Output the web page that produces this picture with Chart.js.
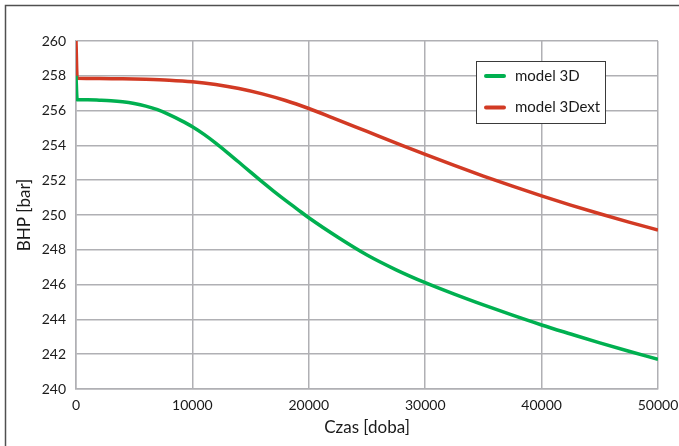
<!DOCTYPE html>
<html>
<head>
<meta charset="utf-8">
<script src="https://cdn.jsdelivr.net/npm/chart.js@4"></script>
<style>
  html, body { margin: 0; padding: 0; background: #fff; }
  #wrap { width: 679px; height: 446px; position: relative; }
</style>
</head>
<body>
<div id="wrap"><canvas id="myChart"></canvas></div>
<script>
// czas [doba] / BHP [bar]
const days3D = [0, 100, 1000, 2000, 3000, 4000, 5000, 6000, 7000, 8000, 9000, 10000, 11000, 12000, 13000, 14000, 15000, 16000, 17000, 18000, 19000, 20000, 22500, 25000, 27500, 30000, 32500, 35000, 37500, 40000, 42500, 45000, 47500, 50000];
const bhp3D = [258.0, 256.62, 256.62, 256.6, 256.57, 256.51, 256.41, 256.26, 256.05, 255.77, 255.44, 255.07, 254.63, 254.13, 253.59, 253.03, 252.46, 251.9, 251.36, 250.84, 250.34, 249.84, 248.72, 247.7, 246.85, 246.11, 245.45, 244.83, 244.24, 243.68, 243.16, 242.65, 242.17, 241.71];

const days3Dext = [0, 100, 2000, 4000, 6000, 8000, 10000, 12000, 14000, 16000, 18000, 20000, 22000, 24000, 26000, 28000, 30000, 32500, 35000, 37500, 40000, 42500, 45000, 47500, 50000];
const bhp3Dext = [260.0, 257.86, 257.85, 257.83, 257.8, 257.75, 257.66, 257.5, 257.27, 256.96, 256.58, 256.12, 255.6, 255.07, 254.53, 254.0, 253.48, 252.85, 252.24, 251.66, 251.1, 250.57, 250.07, 249.59, 249.14];

const xTicks = [0, 10000, 20000, 30000, 40000, 50000];
const yTicks = [240, 242, 244, 246, 248, 250, 252, 254, 256, 258, 260];

const toPoints = (xs, ys) => xs.map((x, i) => ({ x: x, y: ys[i] }));

const gridColor = '#b0b0b4';
const textColor = '#1a1a1a';

// frame round the figure and the boxed legend
const framePlugin = {
  id: 'frame',
  afterDraw(chart) {
    const ctx = chart.ctx;
    ctx.save();
    ctx.strokeStyle = '#505050';
    ctx.lineWidth = 1.5;
    ctx.beginPath();
    ctx.moveTo(5.5, 446);
    ctx.lineTo(5.5, 5.5);
    ctx.lineTo(679, 5.5);
    ctx.stroke();

    // legend
    const bx = 476.5, by = 61.5, bw = 129, bh = 62;
    ctx.fillStyle = '#fff';
    ctx.fillRect(bx, by, bw, bh);
    ctx.strokeStyle = '#3a3a3a';
    ctx.lineWidth = 1;
    ctx.strokeRect(bx, by, bw, bh);
    ctx.font = '15px Lato';
    ctx.textBaseline = 'middle';
    ctx.textAlign = 'left';
    chart.data.datasets.forEach((ds, i) => {
      const y = 76 + i * 31.5;
      ctx.strokeStyle = ds.borderColor;
      ctx.lineWidth = 4;
      ctx.lineCap = 'round';
      ctx.beginPath();
      ctx.moveTo(486, y);
      ctx.lineTo(504, y);
      ctx.stroke();
      ctx.fillStyle = textColor;
      ctx.fillText(ds.label, 515, y);
    });
    ctx.restore();
  },
};

const ctx = document.getElementById('myChart').getContext('2d');
const myChart = new Chart(ctx, {
  type: 'line',
  data: {
    datasets: [
      {
        label: 'model 3D',
        data: toPoints(days3D, bhp3D),
        borderColor: '#00b050',
        borderWidth: 3.5,
        pointRadius: 0,
        cubicInterpolationMode: 'monotone',
      },
      {
        label: 'model 3Dext',
        data: toPoints(days3Dext, bhp3Dext),
        borderColor: '#d23a24',
        borderWidth: 3.5,
        pointRadius: 0,
        cubicInterpolationMode: 'monotone',
      },
    ],
  },
  options: {
    responsive: true,
    maintainAspectRatio: false,
    animation: false,
    layout: { padding: { top: 41, right: 21, left: 0, bottom: 0 } },
    plugins: {
      legend: { display: false },
      tooltip: { enabled: false },
    },
    scales: {
      x: {
        type: 'linear',
        min: 0,
        max: 50000,
        afterFit: (scale) => {
          scale.height = 57;
          scale.paddingLeft = 0;
          scale.paddingRight = 0;
        },
        afterBuildTicks: (scale) => { scale.ticks = xTicks.map((v) => ({ value: v })); },
        ticks: {
          color: textColor,
          font: { family: 'Lato', size: 14 },
          padding: 8,
          maxRotation: 0,
          callback: (v) => String(v),
        },
        grid: { color: gridColor, lineWidth: 1.5, drawTicks: false },
        border: { color: gridColor, width: 1.5 },
        title: {
          display: true,
          text: 'Czas [doba]',
          color: textColor,
          font: { family: 'Lato', size: 17 },
          padding: { top: 0, bottom: 8 },
        },
      },
      y: {
        min: 240,
        max: 260,
        afterFit: (scale) => { scale.width = 76; },
        afterBuildTicks: (scale) => { scale.ticks = yTicks.map((v) => ({ value: v })); },
        ticks: {
          color: textColor,
          font: { family: 'Lato', size: 14 },
          padding: 10,
        },
        grid: { color: gridColor, lineWidth: 1.5, drawTicks: false },
        border: { color: gridColor, width: 1.5 },
        title: {
          display: true,
          text: 'BHP [bar]',
          color: textColor,
          font: { family: 'Lato', size: 17 },
          padding: { top: 14, bottom: 0 },
        },
      },
    },
  },
  plugins: [framePlugin],
});
</script>
</body>
</html>
